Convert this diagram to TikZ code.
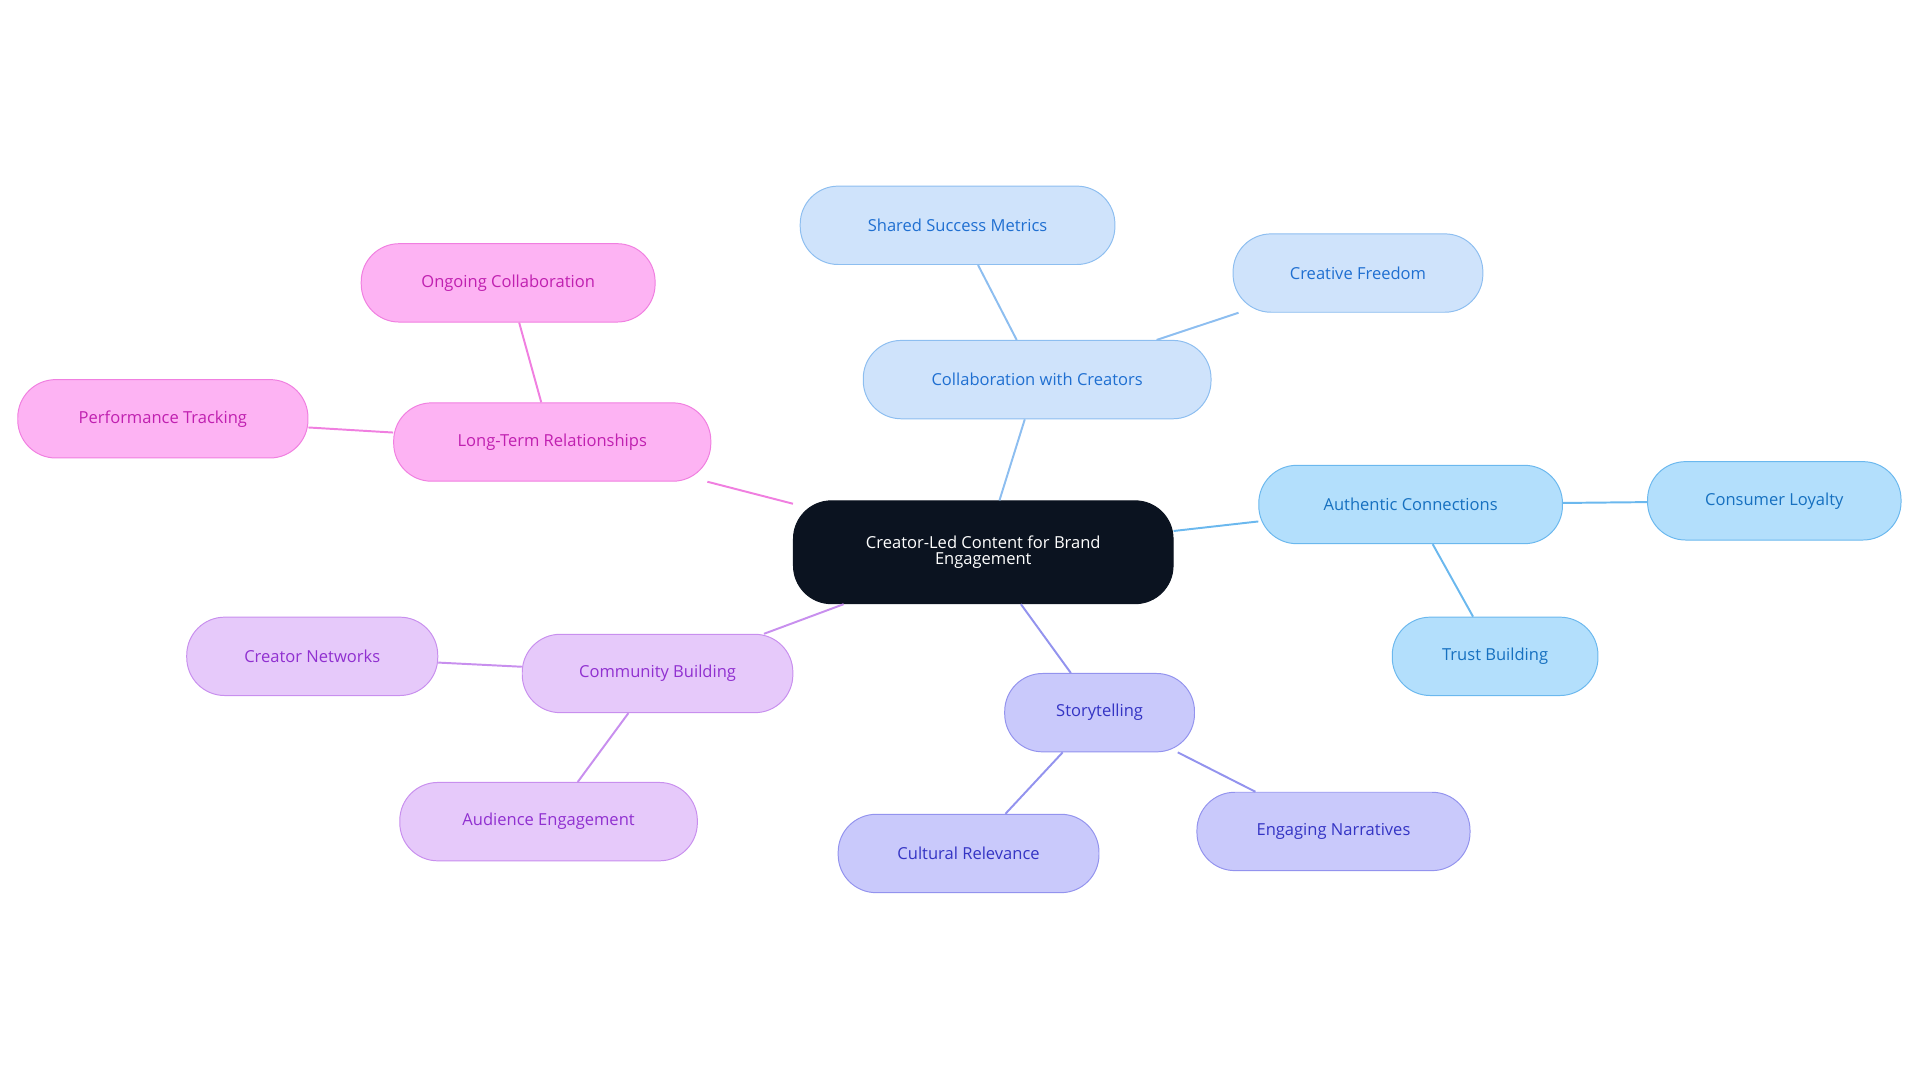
\documentclass[tikz,border=0pt]{standalone}
\usepackage{fontspec}
\setmainfont{Open Sans}
\begin{document}
\begin{tikzpicture}[x=1pt,y=-1pt,
  box/.style={draw,line width=0.8pt,rounded corners=31pt,minimum height=64pt,inner sep=2pt,font=\fontsize{13.5}{15}\selectfont},
  bxa/.style={box,fill=cb1,draw=cb1s,text=cb1t},
  bxb/.style={box,fill=cb2,draw=cb2s,text=cb2t},
  bxc/.style={box,fill=cb3,draw=cb3s,text=cb3t},
  bxd/.style={box,fill=cb4,draw=cb4s,text=cb4t},
  bxe/.style={box,fill=cb5,draw=cb5s,text=cb5t},
  ed/.style={line width=1.6pt}]
\definecolor{cb1}{HTML}{CFE3FB}\definecolor{cb1s}{HTML}{8DBEF0}\definecolor{cb1t}{HTML}{1F6FD1}
\definecolor{cb2}{HTML}{B3DFFC}\definecolor{cb2s}{HTML}{6BB8EE}\definecolor{cb2t}{HTML}{1670C0}
\definecolor{cb3}{HTML}{C9C9FB}\definecolor{cb3s}{HTML}{9393EE}\definecolor{cb3t}{HTML}{3434C4}
\definecolor{cb4}{HTML}{E6C9FA}\definecolor{cb4s}{HTML}{C88FEE}\definecolor{cb4t}{HTML}{9030D0}
\definecolor{cb5}{HTML}{FDB3F3}\definecolor{cb5s}{HTML}{F07FE0}\definecolor{cb5t}{HTML}{C020B0}
\definecolor{dark}{HTML}{0B1320}
\useasboundingbox (0,0) rectangle (1568,884);
\node[box,fill=dark,draw=dark,text=white,minimum width=310pt,minimum height=84pt,align=center] (c) at (803,451) {Creator-Led Content for Brand\\[-2pt]Engagement};
\node[bxa,minimum width=284pt] (col) at (847,310) {Collaboration with Creators};
\node[bxa,minimum width=257pt] (ssm) at (782,184) {Shared Success Metrics};
\node[bxa,minimum width=204pt] (cf) at (1109,223) {Creative Freedom};
\node[bxb,minimum width=248pt] (au) at (1152,412) {Authentic Connections};
\node[bxb,minimum width=207pt] (cl) at (1449,409) {Consumer Loyalty};
\node[bxb,minimum width=168pt] (tb) at (1221,536) {Trust Building};
\node[bxc,minimum width=155pt] (sto) at (898,582) {Storytelling};
\node[bxc,minimum width=213pt] (cr) at (791,697) {Cultural Relevance};
\node[bxc,minimum width=223pt] (en) at (1089,679) {Engaging Narratives};
\node[bxd,minimum width=221pt] (cb) at (537,550) {Community Building};
\node[bxd,minimum width=205pt] (cn) at (255,536) {Creator Networks};
\node[bxd,minimum width=243pt] (ae) at (448,671) {Audience Engagement};
\node[bxe,minimum width=259pt] (ltr) at (451,361) {Long-Term Relationships};
\node[bxe,minimum width=240pt] (oc) at (415,231) {Ongoing Collaboration};
\node[bxe,minimum width=237pt] (pt) at (133,342) {Performance Tracking};
\draw[ed,cb1s] (c) -- (col); \draw[ed,cb1s] (col) -- (ssm); \draw[ed,cb1s] (col) -- (cf);
\draw[ed,cb2s] (c) -- (au); \draw[ed,cb2s] (au) -- (cl); \draw[ed,cb2s] (au) -- (tb);
\draw[ed,cb3s] (c) -- (sto); \draw[ed,cb3s] (sto) -- (cr); \draw[ed,cb3s] (sto) -- (en);
\draw[ed,cb4s] (c) -- (cb); \draw[ed,cb4s] (cb) -- (cn); \draw[ed,cb4s] (cb) -- (ae);
\draw[ed,cb5s] (c) -- (ltr); \draw[ed,cb5s] (ltr) -- (oc); \draw[ed,cb5s] (ltr) -- (pt);
\end{tikzpicture}
\end{document}
